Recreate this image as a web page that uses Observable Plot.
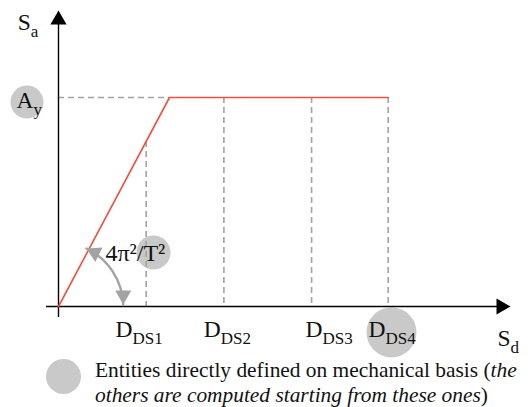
<!DOCTYPE html>
<html><head><meta charset="utf-8">
<script src="https://cdn.jsdelivr.net/npm/d3@7"></script>
<script src="https://cdn.jsdelivr.net/npm/@observablehq/plot@0.6"></script>
<style>
body{margin:0;background:#fff;}
#wrap{position:relative;width:528px;height:407px;overflow:hidden;}
#legend{position:absolute;left:0;top:0;width:528px;height:407px;pointer-events:none;}
#legend .dot{position:absolute;left:46px;top:359px;width:35px;height:35px;border-radius:50%;background:#c9c9c9;}
#legend .txt{position:absolute;left:95px;top:358px;font-family:"Liberation Serif",serif;font-size:21.4px;line-height:25px;color:#111;white-space:nowrap;}
</style></head><body><div id="wrap"></div>
<script>
// ---- data ----
const Dy = 1.0;           // yield displacement
const Ay = 1.0;           // yield acceleration
const thresholds = ["DS1", "DS2", "DS3", "DS4"];
const thresholdValues = [0.79, 1.49, 2.28, 2.97];
const curveX = [0, Dy, 2.97];
const curveY = [0, Ay, Ay];
// axis label annotations: main symbol, subscript, anchor (data units)
const labelMain = ["S", "A", "D", "D", "D", "D", "S"];
const labelSub  = ["a", "y", "DS1", "DS2", "DS3", "DS4", "d"];
const labelX    = [-0.25, -0.225, 0.666, 1.462, 2.378, 2.946, 4.072];
const labelY    = [1.323, 0.952, -0.148, -0.148, -0.148, -0.148, -0.187];
// grey markers (entities defined on mechanical basis)
const markX = [-0.284, 0.856, 3.0];
const markY = [0.978, 0.258, -0.124];
const markR = [16.5, 17, 25];
const slopeText = "4π²/T²";
const legendLine1 = "Entities directly defined on mechanical basis (";
const legendItalic1 = "the";
const legendItalic2 = "others are computed starting from these ones";

const curve = x => Math.min(x / Dy, 1) * Ay;
const curveData = curveX.map((x, i) => ({x, y: curveY[i]}));
const thrData = thresholds.map((k, i) => ({k, x: thresholdValues[i], y: curve(thresholdValues[i])}));
const labels = labelMain.map((m, i) => ({m, s: labelSub[i], x: labelX[i], y: labelY[i]}));
const marks = markX.map((x, i) => ({x, y: markY[i], r: markR[i]}));

const font = "Liberation Serif";
const grey = "#a3a3a3";

const plot = Plot.plot({
  width: 528,
  height: 407,
  axis: null,
  style: {fontFamily: font, background: "transparent", overflow: "visible"},
  x: {domain: [0, 4], range: [58, 502]},
  y: {domain: [0, 1.4], range: [306, 13.4]},
  r: {type: "identity"},
  marks: [
    // grey circles
    Plot.dot(marks, {x: "x", y: "y", r: "r", fill: "#c9c9c9", stroke: "none"}),
    // dashed guides
    Plot.ruleY([Ay], {x1: 0, x2: Dy, stroke: grey, strokeWidth: 1.6, strokeDasharray: "6,4"}),
    Plot.ruleX(thrData, {x: "x", y1: "y", y2: 0, stroke: grey, strokeWidth: 1.6, strokeDasharray: "6,4"}),
    // axes
    Plot.ruleX([0], {y1: -0.053, y2: 1.38, stroke: "#000", strokeWidth: 1.4}),
    Plot.ruleY([0], {x1: -0.108, x2: 3.99, stroke: "#000", strokeWidth: 1.4}),
    Plot.dot([[0, 1.416]], {x: d => d[0], y: d => d[1], symbol: "triangle", r: 6, fill: "#000", stroke: "none", dy: 9.3}),
    Plot.dot([[4.072, 0]], {x: d => d[0], y: d => d[1], symbol: "triangle", r: 6, fill: "#000", stroke: "none", dx: -9.3, rotate: 90}),
    // capacity curve
    Plot.line(curveData, {x: "x", y: "y", stroke: "#f2503f", strokeWidth: 1.6}),
    // slope arc with heads
    Plot.arrow([{x1: 0.252, y1: 0.2775, x2: 0.583, y2: 0.0096}], {x1: "x1", y1: "y1", x2: "x2", y2: "y2", bend: 31, headLength: 0, stroke: grey, strokeWidth: 2.4}),
    Plot.dot([[0.252, 0.2775]], {x: d => d[0], y: d => d[1], symbol: "triangle", r: 6, fill: grey, stroke: "none", dx: 8.3, dy: 4.2, rotate: -63}),
    Plot.dot([[0.583, 0.0096]], {x: d => d[0], y: d => d[1], symbol: "triangle", r: 6, fill: grey, stroke: "none", dy: -9.3, rotate: 180}),
    // labels
    Plot.text(labels, {x: "x", y: "y", text: "m", textAnchor: "end", lineAnchor: "bottom", fontSize: 23.5, fill: "#111"}),
    Plot.text(labels, {x: "x", y: "y", text: "s", textAnchor: "start", lineAnchor: "bottom", fontSize: 17, dy: 7, fill: "#111"}),
    Plot.text([slopeText], {x: 0.423, y: 0.22, text: d => d, textAnchor: "start", lineAnchor: "bottom", fontSize: 24, fill: "#111"})
  ]
});
const wrap = document.getElementById("wrap");
wrap.appendChild(plot);
const lg = document.createElement("div");
lg.id = "legend";
lg.innerHTML = `<div class="dot"></div><div class="txt">${legendLine1}<i>${legendItalic1}</i><br><i>${legendItalic2}</i>)</div>`;
wrap.appendChild(lg);
</script></body></html>
